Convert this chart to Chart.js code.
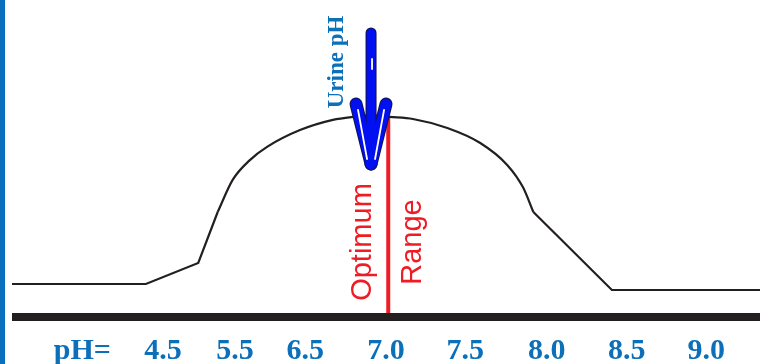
<!DOCTYPE html>
<html>
<head>
<meta charset="utf-8">
<script src="https://cdn.jsdelivr.net/npm/chart.js@4.4.0/dist/chart.umd.min.js"></script>
<style>
  html, body { margin: 0; padding: 0; background: #fff; }
  #wrap { width: 760px; height: 364px; position: relative; }
</style>
</head>
<body>
<div id="wrap"><canvas id="phChart" width="760" height="364"></canvas></div>
<script>
// x runs 0..100 across the plot, y runs 0..100 up from the base line
const tickPos = [9.4, 20.2, 29.8, 39.2, 50.0, 60.6, 71.5, 82.2, 92.8];
const tickLabels = ["pH=", "4.5", "5.5", "6.5", "7.0", "7.5", "8.0", "8.5", "9.0"];

const leftRamp = [
  { x: 0, y: 11 }, { x: 17.9, y: 11 }, { x: 24.9, y: 18 }, { x: 27.5, y: 35 }
];
const arcTop = [
  { x: 27.5, y: 35 }, { x: 29.5, y: 45.7 }, { x: 31.8, y: 52.3 }, { x: 34.1, y: 56.7 },
  { x: 38.5, y: 62.3 }, { x: 42.9, y: 65.7 }, { x: 45.6, y: 66.7 }, { x: 48.1, y: 67.2 },
  { x: 50.5, y: 66.7 }, { x: 53.6, y: 66 }, { x: 58.2, y: 63 }, { x: 62.6, y: 58 },
  { x: 66.2, y: 50.7 }, { x: 68.3, y: 43.3 }, { x: 69.7, y: 35 }
];
const rightRamp = [
  { x: 69.7, y: 35 }, { x: 80.2, y: 9 }, { x: 100, y: 9 }
];
const optimumLine = [{ x: 50.3, y: 1.3 }, { x: 50.3, y: 66.7 }];
const urineArrow = { x: 48.0, top: 96, tip: 50 };
const noteTexts = ["Urine pH", "Optimum", "Range"];

const BLUE_TEXT = "#0B6FBA";
const RED = "#EE1C25";

// left blue rule, base line, arrow and the rotated notes
const decorations = {
  id: "decorations",
  beforeDraw(chart) {
    const ctx = chart.ctx;
    ctx.save();
    ctx.fillStyle = "#0A70BE";
    ctx.fillRect(0, 0, 5, chart.height);
    ctx.restore();
  },
  beforeDatasetsDraw(chart) {
    const { ctx, chartArea } = chart;
    ctx.save();
    ctx.fillStyle = "#231F20";
    ctx.fillRect(chartArea.left, chartArea.bottom - 4, chartArea.right - chartArea.left, 8);
    ctx.restore();
  },
  afterDatasetsDraw(chart) {
    const { ctx, scales: { x, y } } = chart;

    // Urine pH arrow
    const cx = x.getPixelForValue(urineArrow.x);
    const top = y.getPixelForValue(urineArrow.top);
    const tip = y.getPixelForValue(urineArrow.tip);
    const strokes = [
      [cx, top + 4, cx, tip - 8, 9],
      [cx, tip - 3, cx - 15, tip - 63, 11],
      [cx, tip - 3, cx + 15, tip - 63, 11]
    ];
    ctx.save();
    ctx.lineCap = "round";
    strokes.forEach(([x1, y1, x2, y2, w]) => {
      ctx.strokeStyle = "#12124a";
      ctx.lineWidth = w + 2;
      ctx.beginPath(); ctx.moveTo(x1, y1); ctx.lineTo(x2, y2); ctx.stroke();
    });
    strokes.forEach(([x1, y1, x2, y2, w]) => {
      ctx.strokeStyle = "#0010F0";
      ctx.lineWidth = w;
      ctx.beginPath(); ctx.moveTo(x1, y1); ctx.lineTo(x2, y2); ctx.stroke();
    });
    ctx.strokeStyle = "#fff";
    ctx.lineWidth = 1.8;
    ctx.beginPath();
    ctx.moveTo(cx - 4, tip - 8); ctx.lineTo(cx - 13, tip - 57);
    ctx.moveTo(cx + 4, tip - 8); ctx.lineTo(cx + 13, tip - 57);
    ctx.moveTo(cx + 1, top + 30); ctx.lineTo(cx + 1, top + 40);
    ctx.stroke();
    ctx.restore();

    // rotated notes
    const notes = [
      { text: noteTexts[0], x: 44.3, y: 85, color: BLUE_TEXT, font: "bold 23px 'Liberation Serif'" },
      { text: noteTexts[1], x: 48.0, y: 25, color: RED, font: "29px 'Liberation Sans'" },
      { text: noteTexts[2], x: 54.7, y: 25, color: RED, font: "29px 'Liberation Sans'" }
    ];
    notes.forEach((n) => {
      ctx.save();
      ctx.translate(x.getPixelForValue(n.x), y.getPixelForValue(n.y));
      ctx.rotate(-Math.PI / 2);
      ctx.font = n.font;
      ctx.fillStyle = n.color;
      ctx.textAlign = "center";
      ctx.textBaseline = "alphabetic";
      ctx.fillText(n.text, 0, 0);
      ctx.restore();
    });
  }
};

const lineStyle = {
  borderColor: "#231F20",
  borderWidth: 2.2,
  pointRadius: 0,
  fill: false
};

new Chart(document.getElementById("phChart"), {
  type: "line",
  data: {
    datasets: [
      { ...lineStyle, data: leftRamp, tension: 0 },
      { ...lineStyle, data: arcTop, cubicInterpolationMode: "monotone" },
      { ...lineStyle, data: rightRamp, tension: 0 },
      { data: optimumLine, borderColor: RED, borderWidth: 4, pointRadius: 0, tension: 0 }
    ]
  },
  options: {
    responsive: false,
    animation: false,
    layout: { padding: { left: 12, top: 17, right: 0, bottom: 0 } },
    plugins: { legend: { display: false }, tooltip: { enabled: false } },
    scales: {
      x: {
        type: "linear",
        min: 0,
        max: 100,
        grid: { display: false, drawTicks: false },
        border: { display: false },
        afterBuildTicks: (scale) => {
          scale.ticks = tickPos.map((v) => ({ value: v }));
        },
        afterFit: (scale) => { scale.height = 47; },
        ticks: {
          autoSkip: false,
          maxRotation: 0,
          padding: 16,
          color: BLUE_TEXT,
          font: { family: "'Liberation Serif'", size: 30, weight: "bold" },
          callback: (v, i) => tickLabels[i]
        }
      },
      y: { display: false, min: 0, max: 100 }
    }
  },
  plugins: [decorations]
});
</script>
</body>
</html>
